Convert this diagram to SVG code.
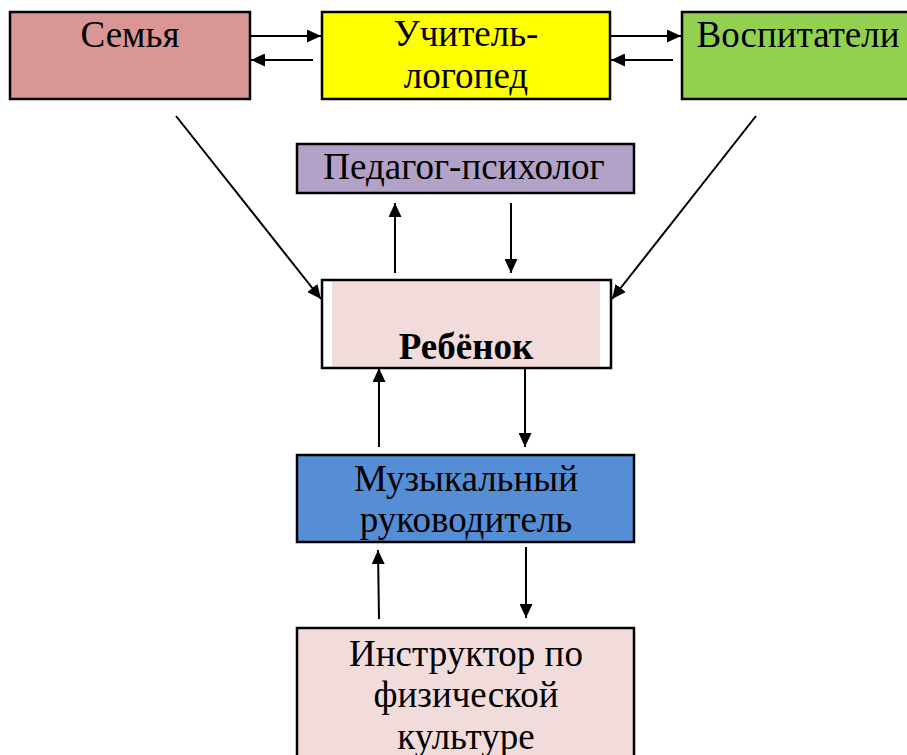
<svg xmlns="http://www.w3.org/2000/svg" width="907" height="755" viewBox="0 0 907 755">
<defs>
<marker id="ah" viewBox="0 0 14 13" refX="14" refY="6.5" markerWidth="14" markerHeight="13" markerUnits="userSpaceOnUse" orient="auto">
<path d="M0,0 L14,6.5 L0,13 Z" fill="#000"/>
</marker>
<style>
.box{stroke:#000;stroke-width:2.5}
.t{font-family:"Liberation Serif","Times New Roman",serif;font-size:37px;fill:#000;text-anchor:middle}
.b{font-weight:bold}
.c{stroke:#000;stroke-width:2;fill:none;marker-end:url(#ah)}
</style>
</defs>
<rect width="907" height="755" fill="#fff"/>
<g id="semya">
<rect class="box" x="10" y="12" width="240" height="87" fill="#D99694"/>
<text class="t" x="130" y="47">Семья</text>
</g>
<g id="logoped">
<rect class="box" x="322" y="12" width="288" height="87" fill="#FFFF00"/>
<text class="t" x="466" y="46">Учитель-</text>
<text class="t" x="466" y="88">логопед</text>
</g>
<g id="vospitateli">
<rect class="box" x="682" y="12" width="240" height="87" fill="#92D050"/>
<text class="t" x="798" y="47">Воспитатели</text>
</g>
<g id="psiholog">
<rect class="box" x="297" y="144" width="337" height="49" fill="#B3A2C7"/>
<text class="t" x="464" y="179">Педагог-психолог</text>
</g>
<g id="rebenok">
<rect x="322" y="280" width="289" height="88" fill="#fff"/>
<rect x="332" y="280" width="268" height="88" fill="#F2DCDB"/>
<rect class="box" x="322" y="280" width="289" height="88" fill="none"/>
<text class="t b" x="466" y="359">Ребёнок</text>
</g>
<g id="muz">
<rect class="box" x="297" y="455" width="337" height="87" fill="#558ED5"/>
<text class="t" x="466" y="491">Музыкальный</text>
<text class="t" x="466" y="532">руководитель</text>
</g>
<g id="instruktor">
<rect class="box" x="297" y="628" width="337" height="140" fill="#F2DCDB"/>
<text class="t" x="466" y="666">Инструктор по</text>
<text class="t" x="466" y="707">физической</text>
<text class="t" x="466" y="749">культуре</text>
</g>
<g id="connectors">
<line class="c" x1="250" y1="36" x2="321" y2="36"/>
<line class="c" x1="313" y1="60" x2="251" y2="60"/>
<line class="c" x1="610" y1="36" x2="681" y2="36"/>
<line class="c" x1="673" y1="60" x2="611" y2="60"/>
<line class="c" x1="176" y1="116" x2="321" y2="299"/>
<line class="c" x1="756" y1="116" x2="612" y2="299"/>
<line class="c" x1="395" y1="273" x2="395" y2="203"/>
<line class="c" x1="511" y1="203" x2="511" y2="273"/>
<line class="c" x1="379" y1="447" x2="379" y2="368"/>
<line class="c" x1="525" y1="368" x2="525" y2="447"/>
<line class="c" x1="379" y1="619" x2="378" y2="550"/>
<line class="c" x1="526" y1="547" x2="526" y2="618"/>
</g>
</svg>
